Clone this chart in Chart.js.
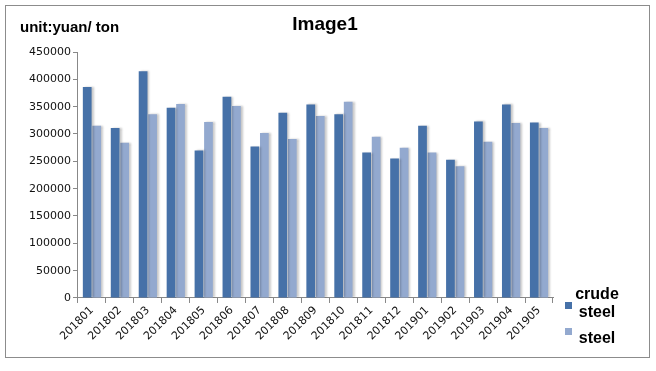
<!DOCTYPE html>
<html>
<head>
<meta charset="utf-8">
<script src="https://cdn.jsdelivr.net/npm/chart.js@4"></script>
<style>
  html, body { margin: 0; padding: 0; background: #fff; }
  #wrap { width: 656px; height: 371px; position: relative; }
</style>
</head>
<body>
<div id="wrap"><canvas id="steelChart" width="656" height="371"></canvas></div>
<script>
// --- data ---
const months = ['201801', '201802', '201803', '201804', '201805', '201806', '201807', '201808', '201809', '201810',
    '201811', '201812', '201901', '201902', '201903', '201904', '201905'];
const crudeSteel = [386000, 311000, 415000, 348000, 270000, 368000, 277000, 339000, 354000, 336000,
    266000, 255000, 315000, 253000, 323000, 354000, 321000];
const steel = [315000, 284000, 336000, 355000, 322000, 351000, 302000, 291000, 333000, 359000,
    295000, 275000, 266000, 241000, 286000, 320000, 311000];
const seriesNames = [['crude', 'steel'], ['steel']];
const yTicks = [0, 50000, 100000, 150000, 200000, 250000, 300000, 350000, 400000, 450000];

const titleText = 'Image1';
const unitText = 'unit:yuan/ ton';

// legend placement (pixels)
const legendTextY = [295, 339];
const legendBoxY = [302, 328];

// frame, title, unit label and the right-hand legend
const decorations = {
    id: 'decorations',
    beforeDraw(chart) {
        const ctx = chart.ctx;
        ctx.save();
        ctx.fillStyle = '#fff';
        ctx.fillRect(0, 0, chart.width, chart.height);
        ctx.strokeStyle = '#8c8c8c';
        ctx.lineWidth = 1;
        ctx.strokeRect(5.5, 5.5, 644, 352);
        ctx.restore();
    },
    afterDraw(chart) {
        const ctx = chart.ctx;
        ctx.save();
        ctx.fillStyle = '#000';
        ctx.textBaseline = 'middle';
        ctx.font = 'bold 19px "Liberation Sans", Arial, sans-serif';
        ctx.textAlign = 'center';
        ctx.fillText(titleText, 325, 25);
        ctx.font = 'bold 15px "Liberation Sans", Arial, sans-serif';
        ctx.textAlign = 'left';
        ctx.fillText(unitText, 20, 28);

        // legend
        ctx.font = 'bold 16px "Liberation Sans", Arial, sans-serif';
        chart.data.datasets.forEach((ds, i) => {
            ctx.fillStyle = ds.backgroundColor;
            ctx.fillRect(565, legendBoxY[i], 7, 7);
            ctx.fillStyle = '#000';
            ctx.textAlign = 'center';
            seriesNames[i].forEach((t, j) => {
                ctx.fillText(t, 597, legendTextY[i] + j * 18);
            });
        });
        ctx.restore();
    }
};

// soft shadow on the bars
const barShadow = {
    id: 'barShadow',
    beforeDatasetsDraw(chart) {
        const ctx = chart.ctx;
        ctx.save();
        ctx.shadowColor = 'rgba(0,0,0,0.22)';
        ctx.shadowOffsetX = 2;
        ctx.shadowOffsetY = 0;
        ctx.shadowBlur = 2;
    },
    afterDatasetsDraw(chart) {
        chart.ctx.restore();
    }
};

const tickFont = { family: '"DejaVu Sans", Verdana, sans-serif', size: 11 };

new Chart(document.getElementById('steelChart'), {
    type: 'bar',
    data: {
        labels: months,
        datasets: [
            {
                label: 'crude steel',
                data: crudeSteel,
                backgroundColor: '#4671a8',
                borderWidth: 0,
                categoryPercentage: 0.68,
                barPercentage: 0.92
            },
            {
                label: 'steel',
                data: steel,
                backgroundColor: '#93a9cf',
                borderWidth: 0,
                categoryPercentage: 0.68,
                barPercentage: 0.92
            }
        ]
    },
    options: {
        responsive: false,
        animation: false,
        layout: { padding: { top: 52, right: 103, bottom: 27, left: 27 } },
        plugins: {
            legend: { display: false },
            title: { display: false },
            tooltip: { enabled: false }
        },
        scales: {
            x: {
                offset: true,
                grid: { display: true, drawOnChartArea: false, drawTicks: true, tickLength: 5, color: '#888' },
                border: { color: '#888' },
                ticks: {
                    color: '#111',
                    font: tickFont,
                    minRotation: 45,
                    maxRotation: 45,
                    autoSkip: false,
                    padding: 1
                }
            },
            y: {
                min: 0,
                max: 450000,
                afterBuildTicks(axis) {
                    axis.ticks = yTicks.map(v => ({ value: v }));
                },
                grid: { display: true, drawOnChartArea: false, drawTicks: true, tickLength: 5, color: '#888' },
                border: { color: '#888' },
                ticks: {
                    color: '#111',
                    font: tickFont,
                    padding: 2,
                    callback: v => String(v)
                }
            }
        }
    },
    plugins: [decorations, barShadow]
});
</script>
</body>
</html>
